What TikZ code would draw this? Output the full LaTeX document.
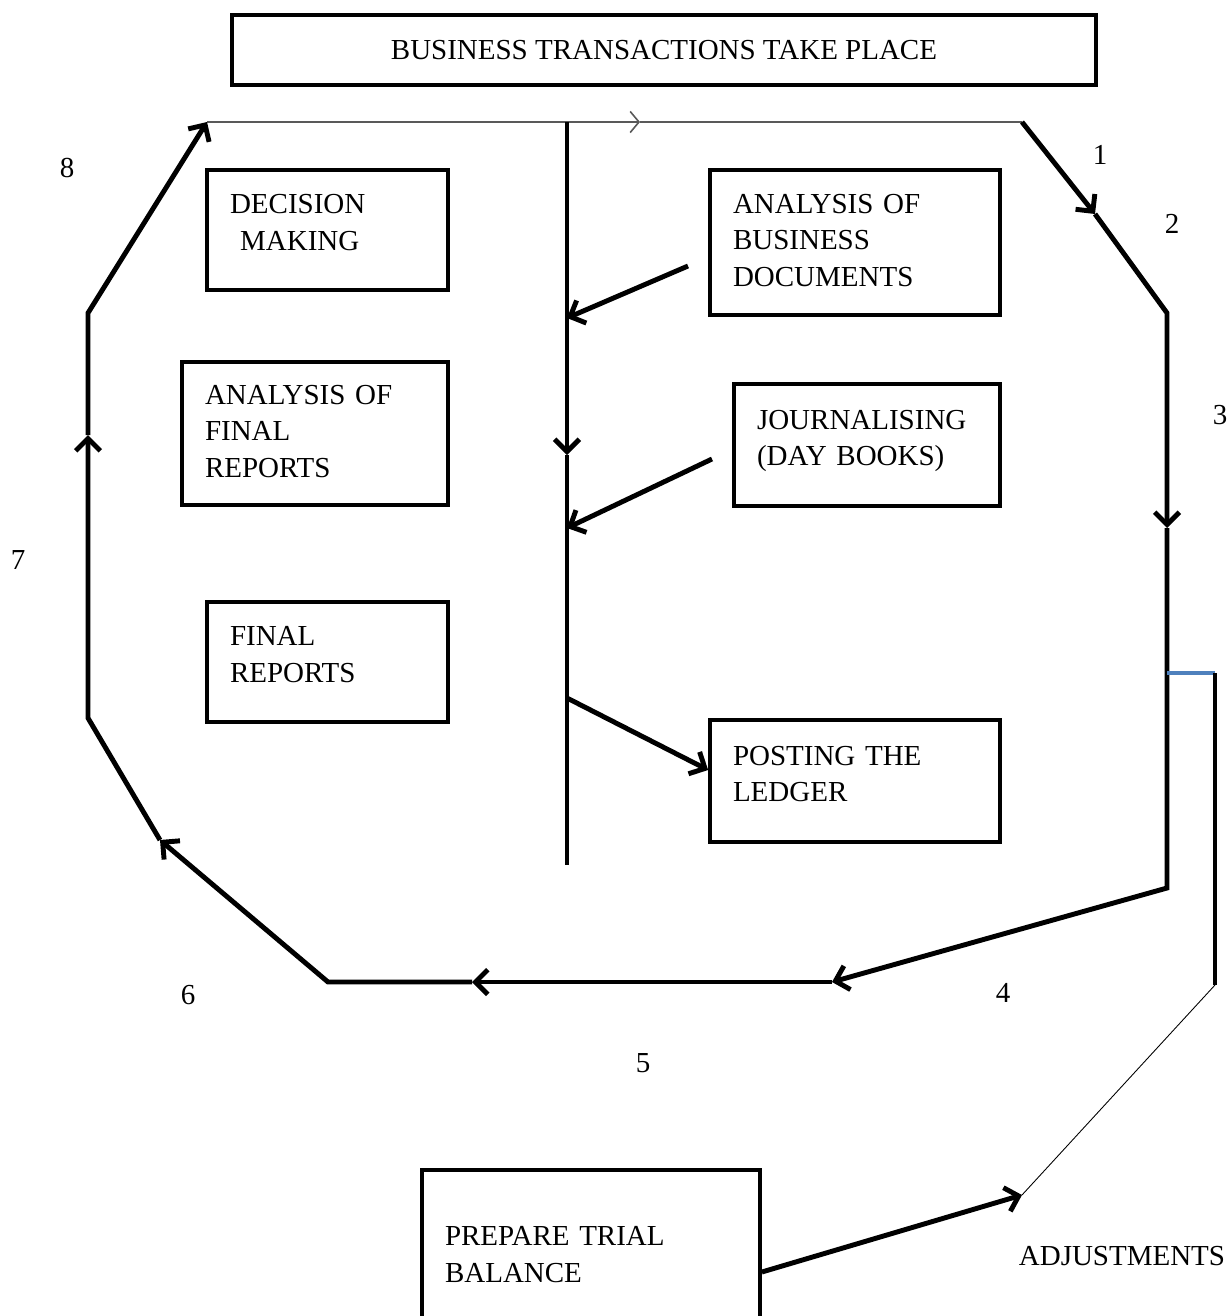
\documentclass[tikz,border=0pt]{standalone}
\usepackage{fontspec}
\setmainfont{Liberation Serif}
\usepackage{xcolor}
\usepackage{tikz}
\usetikzlibrary{arrows.meta,positioning,calc}
\definecolor{adjblue}{HTML}{4F81BD}

\begin{document}
\begin{tikzpicture}[
    x=0.02cm, y=-0.02cm,
    font=\fontsize{16.5}{21}\selectfont,
    box/.style={draw, line width=2.2pt, align=left, inner xsep=0.46cm, inner ysep=0pt},
    lifted/.style={execute at end node={\endgraf\vspace{#1}}},
    arrow/.style={-{Straight Barb[length=7pt,width=14pt]}, line width=2.8pt},
    flow/.style={line width=2.8pt},
    guide/.style={draw=gray!70!black, line width=0.9pt}
]
\useasboundingbox (0,0) rectangle (1229,1316);
\clip (0,0) rectangle (1229,1316);

\node[box, minimum width=17.28cm, minimum height=1.4cm, align=center] (business) at (664,50) {BUSINESS TRANSACTIONS TAKE PLACE};
\node[box, lifted=0.3cm, text width=3.9cm, minimum height=2.4cm] (decision) at (327.5,230) {DECISION\\\hspace{0.35em}MAKING};
\node[box, lifted=0.08cm, text width=4.4cm, minimum height=2.86cm] (finalanalysis) at (315,433.5) {ANALYSIS OF\\FINAL\\REPORTS};
\node[box, lifted=0.28cm, text width=3.9cm, minimum height=2.4cm] (finalreports) at (327.5,662) {FINAL\\REPORTS};
\node[box, lifted=0.08cm, text width=4.88cm, minimum height=2.9cm] (documents) at (855,242.5) {ANALYSIS OF\\BUSINESS\\DOCUMENTS};
\node[box, lifted=0.16cm, text width=4.4cm, minimum height=2.44cm] (journal) at (867,445) {JOURNALISING\\(DAY BOOKS)};
\node[box, lifted=0.28cm, text width=4.88cm, minimum height=2.44cm] (ledger) at (855,781) {POSTING THE\\LEDGER};
\node[box, lifted=0.12cm, text width=5.84cm, minimum height=3.5cm] (trial) at (591,1257.5) {PREPARE TRIAL\\BALANCE};
\node (adjust) at (1122,1256) {ADJUSTMENTS};

\node (n1) at (1100,155) {1};
\node (n2) at (1172,224) {2};
\node (n3) at (1220,415) {3};
\node (n4) at (1003,993) {4};
\node (n5) at (643,1063) {5};
\node (n6) at (188,995) {6};
\node (n7) at (18,560) {7};
\node (n8) at (67,168) {8};

\coordinate (topleft) at (207,122);
\coordinate (topmid) at (640,122);
\coordinate (topright) at (1022,122);
\coordinate (r1) at (1095,214);
\coordinate (r2) at (1167,313);
\coordinate (r3) at (1167,528);
\coordinate (r4) at (1167,888);
\coordinate (b1) at (832,982);
\coordinate (b2) at (472,982);
\coordinate (b3) at (328,982);
\coordinate (l1) at (160,840);
\coordinate (l2) at (88,718);
\coordinate (l3) at (88,435);
\coordinate (l4) at (88,313);
\coordinate (spinetop) at (567,122);
\coordinate (spinemid) at (567,455);
\coordinate (spineend) at (567,865);
\coordinate (fromdocs) at (688,266);
\coordinate (todocs) at (567,318);
\coordinate (fromjournal) at (712,459);
\coordinate (tojournal) at (567,528);
\coordinate (fromspine) at (567,698);
\coordinate (adjtop) at (1167,673);
\coordinate (adjcorner) at (1215,673);
\coordinate (adjbottom) at (1215,985);
\coordinate (adjpoint) at (1022,1195);

\draw[guide, -{Straight Barb[length=5pt,width=12pt]}] (topleft) -- (topmid);
\draw[guide] (topmid) -- (topright);
\draw[arrow] (topright) -- (r1);
\draw[arrow] (r1) -- (r2) -- (r3);
\draw[arrow] (r3) -- (r4) -- (b1);
\draw[arrow] (b1) -- (b2);
\draw[arrow] (b2) -- (b3) -- (l1);
\draw[arrow] (l1) -- (l2) -- (l3);
\draw[arrow] (l3) -- (l4) -- (topleft);

\draw[arrow] (spinetop) -- (spinemid);
\draw[flow] (spinemid) -- (spineend);
\draw[arrow] (fromdocs) -- (todocs);
\draw[arrow] (fromjournal) -- (tojournal);
\draw[arrow] (fromspine) -- ([yshift=0.22cm]ledger.west);

\draw[adjblue, line width=1.8pt] (adjtop) -- (adjcorner);
\draw[line width=2.4pt] (adjcorner) -- (adjbottom);
\draw[line width=0.5pt] (adjbottom) -- (adjpoint);
\draw[arrow] ([yshift=-0.29cm]trial.east) -- (adjpoint);
\end{tikzpicture}
\end{document}
